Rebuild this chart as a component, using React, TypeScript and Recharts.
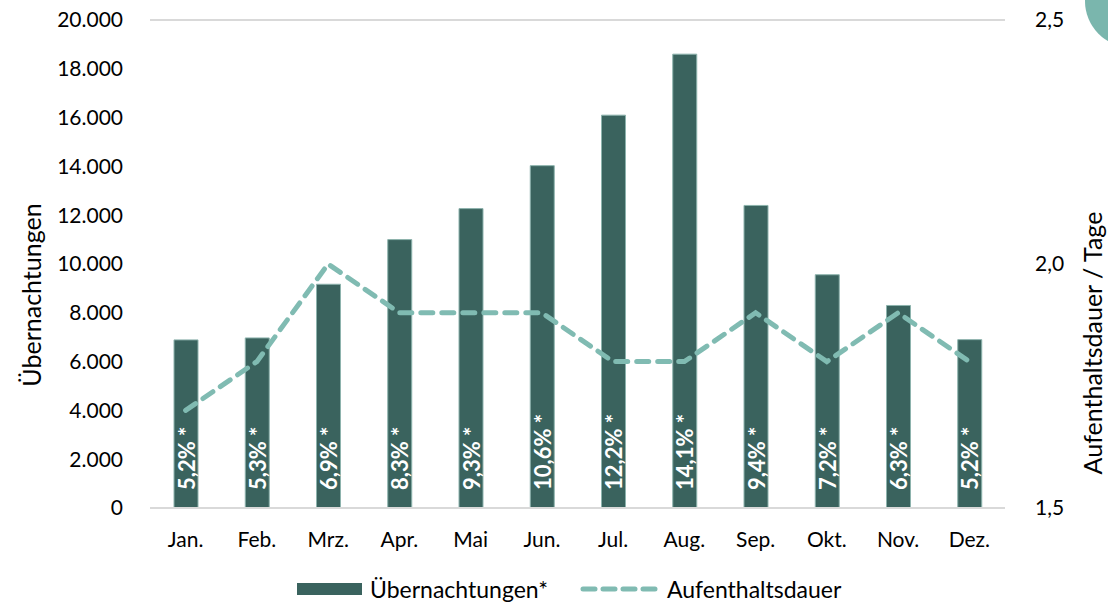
import React from "react";
import {
  ComposedChart,
  Bar,
  Line,
  XAxis,
  YAxis,
  CartesianGrid,
  LabelList,
} from "recharts";

const monate = ["Jan.", "Feb.", "Mrz.", "Apr.", "Mai", "Jun.", "Jul.", "Aug.", "Sep.", "Okt.", "Nov.", "Dez."];
const uebernachtungen = [6890, 6970, 9170, 11000, 12270, 14030, 16100, 18600, 12400, 9560, 8300, 6900];
const aufenthaltsdauer = [1.7, 1.8, 2.0, 1.9, 1.9, 1.9, 1.8, 1.8, 1.9, 1.8, 1.9, 1.8];
const anteile = ["5,2%", "5,3%", "6,9%", "8,3%", "9,3%", "10,6%", "12,2%", "14,1%", "9,4%", "7,2%", "6,3%", "5,2%"];
const linkeTicks = [0, 2000, 4000, 6000, 8000, 10000, 12000, 14000, 16000, 18000, 20000];
const rechteTicks = [1.5, 2.0, 2.5];

const BAR_FARBE = "#3a635e";
const LINIEN_FARBE = "#80bbb2";
const FONT = "Lato, 'Open Sans', sans-serif";

const daten = monate.map((monat, i) => ({
  monat,
  uebernachtungen: uebernachtungen[i],
  dauer: aufenthaltsdauer[i],
  anteil: anteile[i] + " *",
}));

function BalkenLabel(props: any) {
  const { x, y, width, height, value } = props;
  const cx = x + width / 2;
  const by = y + height - 18;
  return (
    <text
      x={cx}
      y={by}
      transform={`rotate(-90, ${cx}, ${by})`}
      fill="#ffffff"
      fontFamily={FONT}
      fontWeight="bold"
      fontSize={22}
      textAnchor="start"
      dominantBaseline="central"
    >
      {value}
    </text>
  );
}

// Achsentitel, senkrecht; Mitte in Bildpunkten
function AchsenTitel({ text, cx, cy }: { text: string; cx: number; cy: number }) {
  return (
    <text
      x={cx}
      y={cy}
      transform={`rotate(-90, ${cx}, ${cy})`}
      fill="#000"
      fontFamily={FONT}
      fontSize={25}
      textAnchor="middle"
      dominantBaseline="central"
    >
      {text}
    </text>
  );
}

function Legende() {
  return (
    <div
      style={{
        position: "absolute",
        left: 297,
        top: 575,
        display: "flex",
        alignItems: "center",
        fontFamily: FONT,
        fontSize: 23,
        color: "#000",
      }}
    >
      <div style={{ width: 65, height: 12, background: BAR_FARBE }} />
      <span style={{ marginLeft: 8 }}>Übernachtungen*</span>
      <svg width={84} height={14} style={{ marginLeft: 32 }}>
        <line
          x1={3}
          y1={7}
          x2={80}
          y2={7}
          stroke={LINIEN_FARBE}
          strokeWidth={5}
          strokeDasharray="12 8"
          strokeLinecap="round"
        />
      </svg>
      <span style={{ marginLeft: 3 }}>Aufenthaltsdauer</span>
    </div>
  );
}

export default function App() {
  return (
    <div style={{ position: "absolute", left: 0, top: 0, width: 1108, height: 604, background: "#fff" }}>
      <div
        style={{
          position: "absolute",
          left: 1085,
          top: -45,
          width: 90,
          height: 92,
          borderRadius: "50%",
          background: "#7ab6ad",
        }}
      />
      <ComposedChart
        width={1108}
        height={604}
        data={daten}
        margin={{ top: 20, right: 0, left: 0, bottom: 56 }}
      >
        <CartesianGrid vertical={false} stroke="#d9d9d9" strokeWidth={2} />
        <XAxis
          dataKey="monat"
          axisLine={{ stroke: "#d9d9d9", strokeWidth: 2 }}
          tickLine={false}
          height={40}
          tick={{ fill: "#000", fontSize: 21, fontFamily: FONT }}
          tickMargin={18}
        />
        <YAxis
          yAxisId="links"
          width={150}
          domain={[0, 20000]}
          ticks={linkeTicks}
          axisLine={false}
          tickLine={false}
          tickMargin={21}
          tick={{ fill: "#000", fontSize: 21, fontFamily: FONT }}
          tickFormatter={(v: number) => v.toLocaleString("de-DE")}
          label={{ content: () => <AchsenTitel text="Übernachtungen" cx={31} cy={295} /> }}
        />
        <YAxis
          yAxisId="rechts"
          orientation="right"
          width={103}
          domain={[1.5, 2.5]}
          ticks={rechteTicks}
          axisLine={false}
          tickLine={false}
          tickMargin={24}
          tick={{ fill: "#000", fontSize: 21, fontFamily: FONT }}
          tickFormatter={(v: number) => v.toFixed(1).replace(".", ",")}
          label={{ content: () => <AchsenTitel text="Aufenthaltsdauer / Tage" cx={1092} cy={343} /> }}
        />
        <Bar
          yAxisId="links"
          dataKey="uebernachtungen"
          fill={BAR_FARBE}
          stroke="#8db3ad"
          strokeWidth={1}
          barSize={24}
          isAnimationActive={false}
        >
          <LabelList dataKey="anteil" content={<BalkenLabel />} />
        </Bar>
        <Line
          yAxisId="rechts"
          dataKey="dauer"
          type="linear"
          stroke={LINIEN_FARBE}
          strokeWidth={5}
          strokeDasharray="12 9"
          strokeLinecap="round"
          dot={false}
          activeDot={false}
          isAnimationActive={false}
        />
      </ComposedChart>
      <Legende />
    </div>
  );
}
